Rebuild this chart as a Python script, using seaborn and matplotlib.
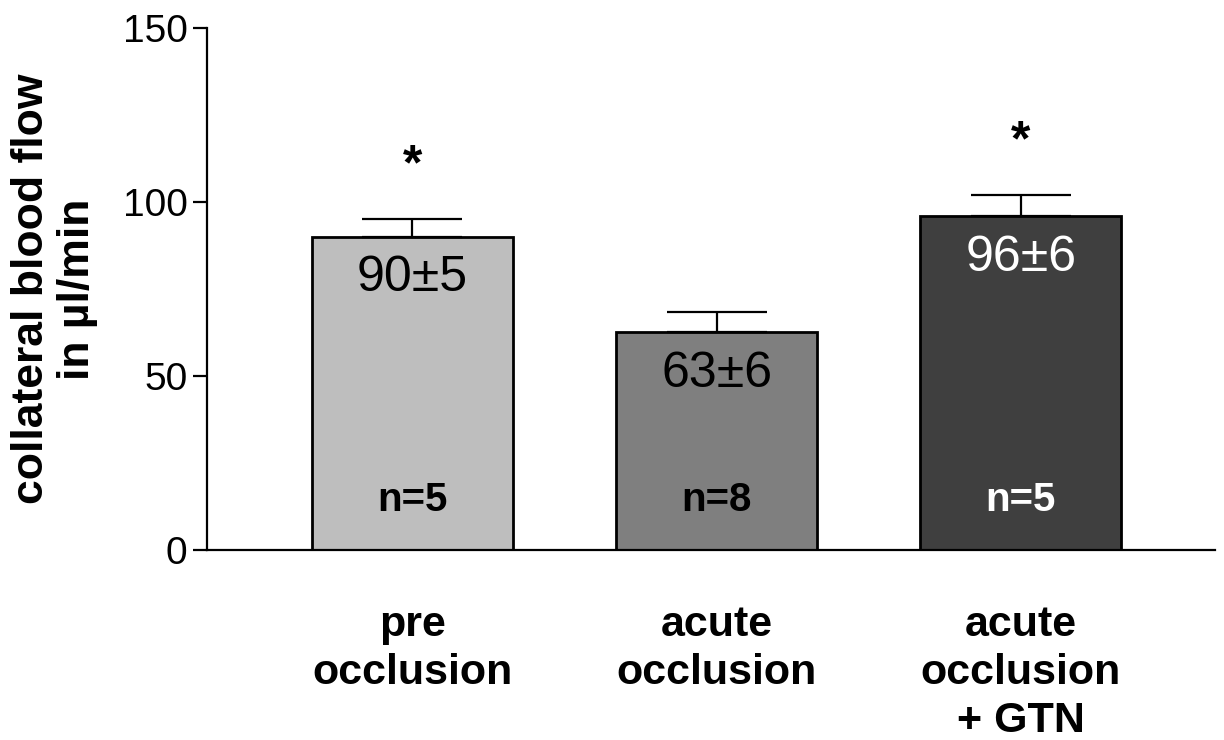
import pandas as pd
import numpy as np
import matplotlib
matplotlib.use("Agg")
import matplotlib.pyplot as plt
import seaborn as sns

sns.set_style("ticks")
plt.rcParams["font.family"] = ["Liberation Sans", "DejaVu Sans"]
plt.rcParams.update({"text.color": "black", "axes.labelcolor": "black",
                     "axes.edgecolor": "black", "xtick.color": "black",
                     "ytick.color": "black"})

# values
groups = ["pre\nocclusion", "acute\nocclusion", "acute\nocclusion\n+ GTN"]
means = [90, 62.5, 96]
sems = [5, 6, 6]
value_labels = ["90±5", "63±6", "96±6"]
n_labels = ["n=5", "n=8", "n=5"]
stars = ["*", "", "*"]
bar_colors = ["#bebebe", "#7f7f7f", "#3f3f3f"]
label_colors = ["black", "black", "white"]

df = pd.DataFrame({"group": groups, "flow": means})

fig = plt.figure(figsize=(12.24, 7.4), dpi=100)
ax = fig.add_axes([0.169, 0.257, 0.824, 0.705])

sns.barplot(data=df, x="group", y="flow", hue="group", palette=bar_colors,
            width=0.66, edgecolor="black", linewidth=2, errorbar=None,
            legend=False, saturation=1, ax=ax)

# only the upper half of the error bar is shown
x = np.arange(len(groups))
ax.errorbar(x, means, yerr=[np.zeros(len(sems)), sems], fmt="none",
            ecolor="black", elinewidth=1.6, capsize=36, capthick=1.6, zorder=3)

for i in range(len(groups)):
    ax.annotate(value_labels[i], (x[i], means[i]), xytext=(0, -30),
                textcoords="offset points", ha="center", va="center",
                fontsize=36, color=label_colors[i])
    ax.text(x[i], 14.4, n_labels[i], ha="center", va="center",
            fontsize=29, fontweight="bold", color=label_colors[i])
    if stars[i]:
        ax.annotate(stars[i], (x[i], means[i] + sems[i]), xytext=(0, 38),
                    textcoords="offset points", ha="center", va="center",
                    fontsize=36, fontweight="bold")

ax.set_xlim(-0.676, 2.64)
ax.set_ylim(0, 150)
ax.set_yticks([0, 50, 100, 150])
ax.tick_params(axis="y", labelsize=28, length=10, width=1.6, pad=4)
ax.tick_params(axis="x", length=0, labelsize=31, pad=40)
for lab in ax.get_xticklabels():
    lab.set_fontweight("bold")
    lab.set_linespacing(1.25)
ax.set_xlabel("")
ax.set_ylabel("collateral blood flow\nin µl/min", fontsize=32,
              fontweight="bold", linespacing=1.15, labelpad=18)
sns.despine(ax=ax)
for side in ["left", "bottom"]:
    ax.spines[side].set_linewidth(1.6)

fig.savefig("out.png", dpi=100)
